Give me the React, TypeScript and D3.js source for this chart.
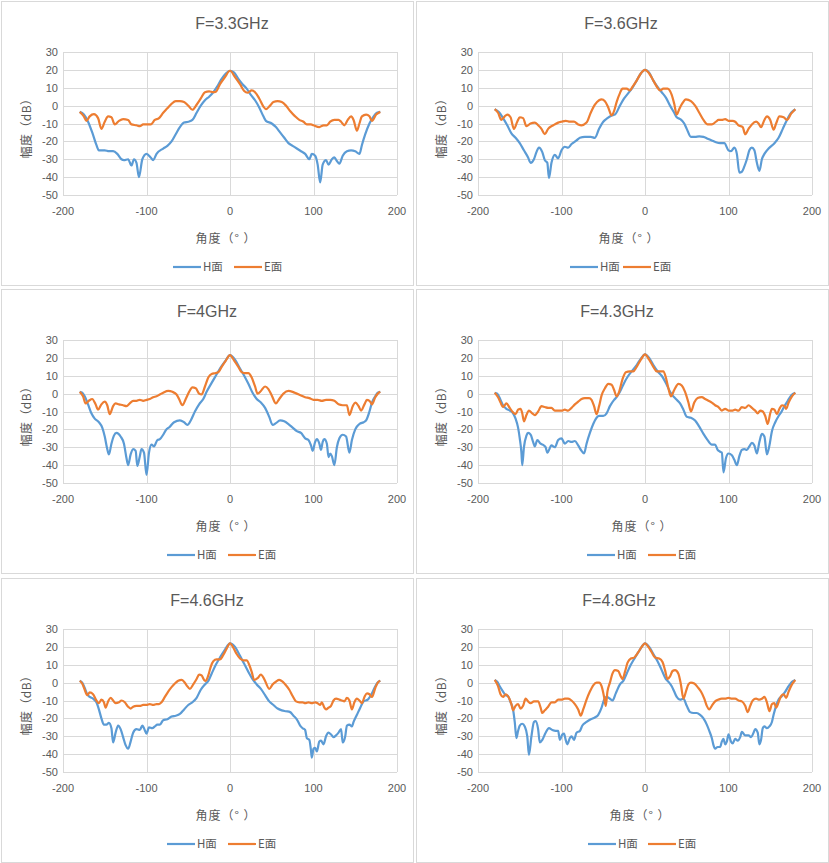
import * as d3 from 'd3';
import React from 'react';

type Pt = [number, number];

// 3.3 GHz
const h33: Pt[] = [[-180,-3.5],[-175,-5],[-170,-9],[-165,-15],[-160,-22],[-157,-25],[-150,-25],[-145,-25.5],[-140,-25.5],[-135,-27],[-130,-30],[-127,-30.5],[-122,-30],[-118,-33.5],[-115,-30],[-112,-32],[-109,-40],[-105,-30],[-100,-27],[-95,-29],[-92,-30.5],[-88,-27],[-80,-24],[-75,-22.5],[-70,-20],[-65,-16],[-60,-12],[-55,-9.5],[-50,-9],[-45,-8],[-40,-4],[-35,0],[-30,3],[-25,5],[-20,7.5],[-15,11],[-10,15],[-5,18],[0,19.5],[5,18.5],[10,15],[15,12],[20,9.5],[25,6],[30,3],[35,-1],[40,-6],[43,-8.5],[50,-10],[55,-12],[60,-15],[65,-18],[70,-21],[75,-22.5],[80,-24],[85,-25.5],[90,-27],[95,-30],[98,-27],[102,-28],[105,-33],[108,-43],[111,-33],[115,-30.5],[118,-33],[122,-30],[125,-29],[128,-31],[131,-32.5],[135,-28],[140,-25.5],[145,-25],[150,-25.5],[155,-27],[158,-22],[162,-16],[167,-10],[172,-6],[176,-4],[180,-3.5]];
const e33: Pt[] = [[-180,-3.5],[-175,-6],[-172,-8.5],[-168,-6],[-163,-4.8],[-158,-7],[-154,-13],[-150,-9],[-146,-6],[-142,-6.5],[-138,-10.5],[-133,-8.5],[-128,-7.5],[-122,-8],[-118,-10.5],[-112,-11],[-108,-11.5],[-104,-10.5],[-100,-10.5],[-95,-10.5],[-90,-8],[-85,-7],[-80,-4],[-75,-1.5],[-70,1],[-65,2.5],[-60,2.5],[-55,2],[-50,0],[-45,-2.3],[-40,0.5],[-35,4],[-30,7.5],[-25,8],[-20,7.5],[-17,7.8],[-12,12],[-6,16],[0,19.5],[6,16],[12,12],[17,8.2],[21,7.2],[26,8.5],[30,7.5],[35,4],[40,-0.5],[43,-2],[48,0],[52,2],[57,2.5],[62,2],[67,0],[72,-3],[78,-6],[83,-8],[88,-9],[92,-10.5],[97,-10.5],[100,-11],[107,-12],[112,-11],[116,-11],[120,-9],[125,-8],[130,-8],[133,-9],[137,-11],[141,-8],[145,-6],[148,-8],[152,-14],[155,-10],[158,-6],[163,-5],[167,-6],[170,-8.5],[175,-5],[180,-3.5]];

// 3.6 GHz
const h36: Pt[] = [[-180,-2],[-175,-3.5],[-170,-7],[-165,-11],[-160,-15.5],[-155,-18],[-150,-21],[-145,-25],[-140,-29],[-137,-32],[-133,-30],[-130,-26],[-127,-23.5],[-123,-26],[-120,-30.5],[-117,-32],[-115,-40.5],[-112,-32],[-108,-27.5],[-104,-29.5],[-100,-25],[-96,-23],[-92,-23.5],[-88,-21.5],[-82,-19.5],[-78,-18],[-72,-17.5],[-65,-17.5],[-60,-18],[-55,-13],[-50,-9],[-45,-7],[-40,-5.5],[-36,-5],[-30,0],[-25,4],[-20,7],[-15,10],[-10,14],[-5,18],[0,20],[5,18.5],[10,14],[15,10.5],[20,7.5],[25,4.5],[30,0],[35,-4],[38,-6.5],[42,-7.5],[47,-10],[50,-13],[55,-17.5],[60,-17.5],[65,-17.2],[70,-17.5],[75,-18.5],[80,-19.5],[85,-20.5],[90,-21],[95,-21],[100,-25],[103,-25.5],[107,-23.5],[110,-27],[113,-37.5],[116,-37],[119,-34],[122,-30],[125,-25],[128,-23.5],[131,-25],[134,-32],[137,-36.5],[140,-30],[143,-27],[148,-24],[155,-21],[160,-18],[165,-13],[170,-8],[175,-4],[180,-2]];
const e36: Pt[] = [[-180,-2],[-176,-4],[-172,-8],[-168,-6],[-165,-5],[-161,-6.5],[-157,-13],[-153,-9],[-150,-6.5],[-146,-7],[-142,-11.5],[-137,-10],[-132,-9.5],[-128,-11],[-124,-13],[-120,-16],[-116,-13],[-112,-11.5],[-108,-10.5],[-104,-9.5],[-100,-9],[-95,-8.5],[-90,-9],[-85,-9],[-80,-10.5],[-76,-11],[-70,-9.5],[-65,-4],[-60,0.5],[-55,3],[-52,3.5],[-48,2.5],[-44,-1],[-40,-5.5],[-37,-3],[-34,2],[-30,7],[-27,9.5],[-22,9.5],[-18,8.5],[-15,10.5],[-10,14],[-5,18],[0,20],[5,18],[10,14],[15,10],[18,8.5],[22,9.5],[27,9.5],[32,6],[35,1],[38,-5],[41,-2],[45,1.5],[49,3.5],[55,2.5],[60,0],[65,-4],[70,-8],[75,-10.5],[80,-10.5],[85,-9],[88,-8],[92,-8],[96,-7.5],[100,-8.5],[105,-8.5],[108,-9],[112,-11],[117,-12],[120,-16],[124,-13],[128,-10.5],[133,-9],[136,-10],[139,-12],[143,-8],[146,-6],[150,-8],[154,-13.5],[157,-10],[161,-6],[166,-6.5],[170,-8],[175,-4.5],[180,-2]];

// 4 GHz
const h40: Pt[] = [[-180,1],[-177,0.5],[-174,-1.5],[-170,-6],[-166,-11],[-162,-14],[-157,-16],[-153,-19],[-150,-24],[-147,-31],[-145,-34],[-142,-28],[-139,-23.5],[-136,-22],[-131,-24],[-127,-28],[-124,-36],[-122,-40],[-119,-34],[-116,-31],[-113,-32],[-111,-40.5],[-108,-35],[-106,-31],[-103,-33],[-100,-45.5],[-97,-33],[-94,-28.5],[-91,-29.5],[-87,-26],[-84,-25.5],[-80,-23],[-77,-20.5],[-72,-18.5],[-67,-16],[-60,-15],[-55,-16],[-51,-17.5],[-47,-15],[-42,-10],[-37,-6],[-32,-3],[-28,1],[-22,6],[-17,10],[-12,14],[-6,18],[0,21.5],[6,19],[12,14],[17,10],[22,5.5],[27,0.5],[32,-3],[37,-5],[42,-8],[47,-13],[51,-17.5],[55,-16.5],[60,-15],[65,-15.5],[70,-17],[75,-19],[80,-21],[85,-22],[90,-25],[94,-26],[97,-29],[99,-32],[102,-27],[104,-25.5],[107,-28],[109,-31.5],[111,-27],[113,-25.5],[116,-28],[118,-35.5],[120,-33.5],[122,-35],[125,-40],[128,-30],[131,-25],[135,-23],[139,-24],[143,-33],[146,-26],[150,-20],[155,-17],[160,-16],[163,-15],[167,-10],[170,-5],[174,-1.5],[177,0.5],[180,1]];
const e40: Pt[] = [[-180,1],[-176,-1.5],[-173,-5.5],[-169,-4],[-165,-3],[-161,-6],[-158,-9],[-154,-6],[-150,-4.5],[-147,-6.5],[-144,-11.5],[-140,-7],[-137,-5.5],[-133,-6],[-128,-6.5],[-124,-7],[-120,-5.5],[-116,-4],[-112,-4],[-108,-3.5],[-104,-4],[-100,-3.5],[-96,-3],[-92,-2],[-88,-1.5],[-84,-0.5],[-80,0.5],[-74,1.5],[-69,1],[-64,-0.5],[-61,-3],[-57,-6.5],[-53,-3],[-49,1],[-45,3.5],[-41,3],[-37,0],[-34,-0.5],[-30,4],[-26,9],[-22,11],[-17,11.5],[-14,12],[-10,15],[-5,18.5],[0,21.5],[5,18.5],[10,15],[14,12],[17,11.5],[22,11.5],[26,9],[30,4],[33,0],[37,1.5],[42,4],[46,2.5],[50,-1],[55,-5.5],[59,-3],[64,0],[70,1.5],[75,1],[80,0],[85,-1],[90,-2],[95,-2.5],[100,-3.5],[105,-3.5],[110,-4],[115,-3.5],[120,-3.5],[125,-4],[130,-6],[135,-6.5],[140,-6.5],[143,-12],[147,-7],[150,-5],[154,-7],[157,-9.5],[161,-6],[164,-3.5],[168,-4.5],[170,-6],[174,-2],[177,0],[180,1]];

// 4.3 GHz
const h43: Pt[] = [[-180,0.5],[-177,0],[-173,-3.5],[-170,-6.5],[-166,-8.5],[-162,-9.5],[-158,-11],[-155,-14],[-152,-19],[-150,-25],[-148,-33],[-147,-40],[-145,-30],[-142,-23.5],[-140,-22],[-137,-23],[-134,-27],[-132,-29.5],[-129,-26],[-125,-28],[-121,-29],[-119,-30],[-117,-33],[-112,-29],[-108,-30],[-104,-26],[-100,-25],[-96,-28],[-92,-26.5],[-88,-27],[-84,-26.5],[-80,-29],[-76,-32],[-73,-33.5],[-70,-28],[-66,-22],[-62,-17],[-58,-13.5],[-55,-12.5],[-50,-12.5],[-46,-11],[-42,-7],[-37,-3.5],[-34,-2],[-30,1],[-25,6],[-20,10],[-15,13],[-10,16],[-5,19.5],[0,22],[5,20],[10,16],[15,12.5],[20,10],[25,6],[30,1],[33,-1],[37,-3],[42,-5.5],[46,-9],[50,-13],[55,-13.5],[60,-15],[65,-18.5],[70,-22.5],[75,-26],[80,-28.5],[84,-28.5],[87,-31.5],[90,-32.5],[92,-33],[94,-44],[97,-36],[100,-33.5],[104,-34.5],[107,-37],[110,-40],[113,-35],[116,-31.5],[119,-31],[122,-31.5],[125,-29.5],[128,-27.5],[131,-29],[134,-33.5],[137,-27],[140,-22.5],[143,-24],[146,-34],[149,-29],[152,-21],[156,-16],[160,-12.5],[163,-10.5],[167,-7],[171,-4],[175,-1],[180,0.5]];
const e43: Pt[] = [[-180,0.5],[-176,-2],[-173,-5],[-170,-7.5],[-166,-5.5],[-162,-8],[-158,-10.5],[-155,-11.5],[-152,-9],[-149,-8.5],[-147,-11],[-145,-15.5],[-142,-12],[-139,-9.5],[-135,-11],[-132,-12],[-128,-10],[-124,-7],[-120,-7.5],[-116,-8],[-112,-8],[-108,-9.5],[-104,-9.5],[-100,-9.5],[-96,-9],[-92,-9.5],[-88,-8],[-84,-6],[-80,-4.5],[-76,-3],[-72,-2.5],[-67,-2.5],[-64,-3.5],[-61,-7],[-58,-11.5],[-55,-7],[-52,-1],[-48,3],[-44,5.5],[-40,5],[-37,2],[-34,-1.5],[-31,1],[-27,8],[-23,12],[-18,12.5],[-14,12.5],[-10,15],[-5,19],[0,22],[5,19],[10,15],[14,12.5],[18,12.5],[22,12.5],[25,9],[28,3],[31,-1.5],[35,2],[40,5.5],[44,4.5],[48,1],[52,-5],[55,-10],[59,-5],[63,-2.5],[68,-2],[72,-3],[76,-4],[80,-5],[84,-6.5],[88,-7.5],[92,-9.5],[96,-8.5],[100,-9.5],[104,-9.5],[108,-9],[112,-9.5],[116,-7.5],[120,-8],[124,-6.5],[128,-8],[132,-9.5],[135,-11],[138,-9.5],[141,-10],[144,-12.5],[147,-17],[150,-11],[152,-8.5],[155,-9],[158,-11.5],[161,-8.5],[164,-6.5],[167,-7],[169,-8.5],[172,-5],[176,-1.5],[180,0.5]];

// 4.6 GHz
const h46: Pt[] = [[-180,1],[-177,0],[-174,-3],[-171,-6.5],[-168,-8],[-164,-9],[-160,-11],[-157,-15],[-154,-20],[-151,-23.5],[-148,-23.5],[-145,-22.5],[-142,-25.5],[-140,-33.5],[-137,-28],[-134,-24],[-131,-26],[-128,-30.5],[-125,-35],[-122,-37],[-119,-33],[-116,-28],[-112,-26],[-108,-26.5],[-105,-24],[-103,-25.5],[-100,-28.5],[-97,-25],[-93,-25.5],[-90,-24.5],[-87,-23.5],[-84,-23.5],[-80,-21],[-75,-20.5],[-70,-19],[-65,-18.5],[-60,-17.5],[-55,-15],[-50,-12.5],[-45,-11],[-40,-8.5],[-35,-4],[-30,-1],[-26,1],[-22,5],[-17,10],[-12,14],[-6,18.5],[0,22],[6,20],[12,15],[17,10.5],[22,6],[27,2],[32,-1],[37,-3.5],[42,-7],[47,-10.5],[52,-12.5],[57,-14.5],[62,-15.5],[67,-16],[72,-16.5],[76,-18.5],[80,-20.5],[84,-24],[87,-25.5],[90,-26.5],[92,-31],[95,-32],[97,-38],[98,-42],[100,-37],[102,-36.5],[104,-38.5],[107,-33],[109,-32.5],[112,-34.5],[115,-30],[118,-28],[121,-29],[124,-30.5],[127,-29.5],[130,-28],[133,-26],[135,-33.5],[138,-30],[140,-24],[143,-23.5],[146,-24.5],[148,-22],[152,-18],[156,-14],[160,-10.5],[165,-9.5],[170,-6],[174,-2],[178,0.5],[180,1]];
const e46: Pt[] = [[-180,1],[-177,-0.5],[-174,-4],[-171,-7],[-168,-5.5],[-164,-6.5],[-160,-10],[-157,-11.5],[-154,-9.5],[-151,-11],[-149,-14],[-146,-10.5],[-143,-8.5],[-140,-10],[-137,-11.5],[-133,-11],[-130,-10],[-126,-11],[-122,-13.5],[-119,-14.5],[-116,-13.5],[-112,-13],[-108,-13],[-104,-12.5],[-100,-12.5],[-96,-12],[-92,-12.5],[-88,-12],[-85,-12],[-82,-11],[-78,-8],[-74,-5],[-70,-2.5],[-66,-0.5],[-62,1],[-58,1.5],[-55,0.5],[-52,-1.5],[-48,-3.5],[-44,-1],[-40,2],[-37,4.5],[-34,4],[-31,1.5],[-29,1],[-26,4],[-23,9],[-20,12],[-16,13],[-12,13],[-8,15.5],[-4,19],[0,22],[4,19.5],[8,16],[12,13.5],[16,12.5],[20,12.5],[23,10],[26,6],[29,1.5],[33,2.5],[37,4.5],[41,2],[47,-3.5],[51,-1],[55,0.5],[59,1.5],[63,0.5],[67,-1.5],[71,-4],[75,-7.5],[79,-10.5],[83,-11],[87,-11],[90,-11.5],[94,-11],[98,-11.5],[102,-11],[105,-11.5],[108,-12.5],[110,-11],[113,-14],[115,-15],[118,-14],[121,-13],[124,-10],[127,-9],[131,-9.5],[134,-10],[137,-10.5],[140,-8.5],[143,-10],[146,-15],[149,-11],[152,-9],[155,-10],[158,-11.5],[161,-8],[164,-6],[167,-6.5],[170,-8],[174,-3],[177,0],[180,1]];

// 4.8 GHz
const h48: Pt[] = [[-180,1.5],[-177,0.5],[-174,-2],[-170,-5],[-167,-7],[-164,-7.5],[-161,-11],[-158,-15],[-156,-22],[-154,-31],[-152,-27],[-150,-24],[-147,-23],[-144,-24.5],[-141,-30],[-139,-40.5],[-136,-30],[-133,-22],[-131,-21.5],[-128,-26],[-126,-33.5],[-123,-32],[-119,-28],[-115,-25.5],[-111,-26.5],[-107,-27],[-104,-27],[-102,-32],[-99,-29],[-97,-28.5],[-95,-32],[-93,-34.5],[-90,-31],[-88,-30],[-85,-32],[-82,-28],[-78,-27],[-75,-24],[-70,-22],[-65,-20.5],[-60,-19.5],[-56,-18],[-52,-14],[-49,-9.5],[-46,-8],[-42,-9],[-39,-10],[-35,-6],[-30,-1],[-26,1],[-22,5],[-17,10],[-12,14],[-6,18.5],[0,22],[5,20],[10,16],[15,12],[20,7],[25,2],[28,0.5],[32,-2],[35,-5],[38,-8],[42,-9.5],[46,-9],[50,-13],[54,-16.5],[58,-17],[62,-17],[66,-18],[70,-20],[74,-23.5],[77,-27],[80,-31],[82,-35],[84,-37],[87,-36],[90,-36],[92,-33],[94,-31.5],[96,-34.5],[98,-33],[100,-29],[103,-33],[105,-34],[108,-31.5],[111,-32.5],[114,-30.5],[116,-27.5],[120,-29.5],[124,-29.5],[127,-30.5],[130,-28],[132,-26],[135,-28],[137,-34.5],[139,-32],[141,-25.5],[143,-24.5],[146,-25.5],[149,-24.5],[152,-22],[154,-18],[157,-13],[160,-9.5],[164,-7.5],[168,-5],[172,-2],[176,0.5],[180,1.5]];
const e48: Pt[] = [[-180,1.5],[-176,-2],[-173,-6.5],[-170,-8],[-167,-6.5],[-163,-8.5],[-160,-12],[-158,-15.5],[-155,-13],[-152,-12],[-149,-14.5],[-146,-13],[-143,-9],[-140,-10.5],[-137,-11.5],[-133,-10.5],[-128,-10.5],[-125,-14],[-123,-17],[-120,-15.5],[-116,-13.5],[-112,-11],[-108,-11],[-104,-9.5],[-100,-9.5],[-96,-9],[-92,-9],[-88,-10],[-84,-12],[-80,-15],[-77,-18.5],[-74,-15],[-70,-9.5],[-66,-5],[-62,-1.5],[-58,0],[-55,0],[-52,-2],[-49,-8],[-47,-13],[-45,-5],[-42,0],[-39,5],[-36,7],[-32,6.5],[-29,3.5],[-27,2],[-24,6],[-21,11],[-17,13.5],[-13,14],[-8,17],[-4,20],[0,22],[4,20],[8,17],[12,14],[17,13.5],[21,11.5],[24,7],[27,2],[30,3.5],[33,6.5],[36,7],[40,5],[43,-1],[46,-9],[49,-5],[52,-1],[55,0],[59,-0.5],[63,-2.5],[67,-5],[71,-9],[74,-13],[77,-15],[80,-13],[84,-10.5],[88,-9.5],[92,-9],[96,-9],[100,-8.5],[104,-9],[108,-9],[112,-10],[116,-10.5],[120,-13],[123,-16.5],[126,-13],[129,-10],[133,-9],[137,-9.5],[140,-9],[143,-8],[146,-11],[149,-16],[152,-12],[155,-11.5],[157,-14],[160,-11],[163,-7.5],[166,-6.5],[169,-8.5],[172,-5],[176,-1],[180,1.5]];

const titles = ['F=3.3GHz', 'F=3.6GHz', 'F=4GHz', 'F=4.3GHz', 'F=4.6GHz', 'F=4.8GHz'];
const hSeries = [h33, h36, h40, h43, h46, h48];
const eSeries = [e33, e36, e40, e43, e46, e48];
const xTicks = [-200, -100, 0, 100, 200];
const yTicks = [-50, -40, -30, -20, -10, 0, 10, 20, 30];
const seriesNames = ['H面', 'E面'];

const BLUE = '#5B9BD5';
const ORANGE = '#ED7D31';
const TEXT = '#595959';
const GRID = '#D9D9D9';
const FONT = '"Liberation Sans", "Noto Sans CJK SC", sans-serif';
const CJK = '"Noto Sans CJK SC", sans-serif';

// panel placement (the source charts were not perfectly aligned)
const panelX = [1, 416];
const panelY = [1, 289, 578];
const titleX = [231, 205, 206, 201, 206, 203];
const axisTitleX = [225, 213, 225, 226, 225, 224];
const legendX: [number, number][] = [[172, 233], [154, 207], [166, 227], [171, 232], [166, 227], [172, 232]];

function Panel({ idx }: { idx: number }) {
  const px = panelX[idx % 2];
  const py = panelY[Math.floor(idx / 2)];
  const W = 412;
  const H = 284;
  const left = 62, right = 396, top = 51, bottom = 194;

  const x = d3.scaleLinear().domain([-200, 200]).range([left, right]);
  const y = d3.scaleLinear().domain([-50, 30]).range([bottom, top]);
  const line = d3
    .line<Pt>()
    .x((d) => x(d[0]))
    .y((d) => y(d[1]))
    .curve(d3.curveMonotoneX);

  const [lx1, lx2] = legendX[idx];

  return (
    <g transform={`translate(${px},${py})`}>
      <rect x={0.5} y={0.5} width={W} height={H} fill="#fff" stroke={GRID} />
      <text x={titleX[idx]} y={28} textAnchor="middle" fontSize={16} fill={TEXT}>
        {titles[idx]}
      </text>
      {yTicks.map((t) => (
        <line key={'y' + t} x1={left} x2={right} y1={Math.round(y(t)) + 0.5} y2={Math.round(y(t)) + 0.5} stroke={GRID} />
      ))}
      {xTicks.map((t) => (
        <line key={'x' + t} x1={Math.round(x(t)) + 0.5} x2={Math.round(x(t)) + 0.5} y1={top} y2={bottom} stroke={GRID} />
      ))}
      {yTicks.map((t) => (
        <text key={'yl' + t} x={left - 5} y={y(t) + 4} textAnchor="end" fontSize={11} fill={TEXT}>
          {t}
        </text>
      ))}
      {xTicks.map((t) => (
        <text key={'xl' + t} x={x(t)} y={bottom + 20} textAnchor="middle" fontSize={11} fill={TEXT}>
          {t}
        </text>
      ))}
      <text x={axisTitleX[idx]} y={242} textAnchor="middle" fontSize={12} fill={TEXT} fontFamily={CJK} letterSpacing={1}>
        角度（° ）
      </text>
      <text transform={`translate(30,${(top + bottom) / 2 + 2}) rotate(-90)`} textAnchor="middle" fontSize={12} fill={TEXT} fontFamily={CJK} letterSpacing={0.4}>
        幅度（dB）
      </text>
      <path d={line(hSeries[idx]) ?? ''} fill="none" stroke={BLUE} strokeWidth={2.2} strokeLinejoin="round" />
      <path d={line(eSeries[idx]) ?? ''} fill="none" stroke={ORANGE} strokeWidth={2.2} strokeLinejoin="round" />
      <line x1={lx1} x2={lx1 + 28} y1={266} y2={266} stroke={BLUE} strokeWidth={2.2} />
      <text x={lx1 + 30} y={270} fontSize={11.5} fill={TEXT} fontFamily={CJK}>{seriesNames[0]}</text>
      <line x1={lx2} x2={lx2 + 28} y1={266} y2={266} stroke={ORANGE} strokeWidth={2.2} />
      <text x={lx2 + 30} y={270} fontSize={11.5} fill={TEXT} fontFamily={CJK}>{seriesNames[1]}</text>
    </g>
  );
}

export default function App() {
  return (
    <svg
      width={829}
      height={863}
      style={{ position: 'absolute', left: 0, top: 0, background: '#fff' }}
      fontFamily={FONT}
    >
      {titles.map((_, i) => (
        <Panel key={i} idx={i} />
      ))}
    </svg>
  );
}
